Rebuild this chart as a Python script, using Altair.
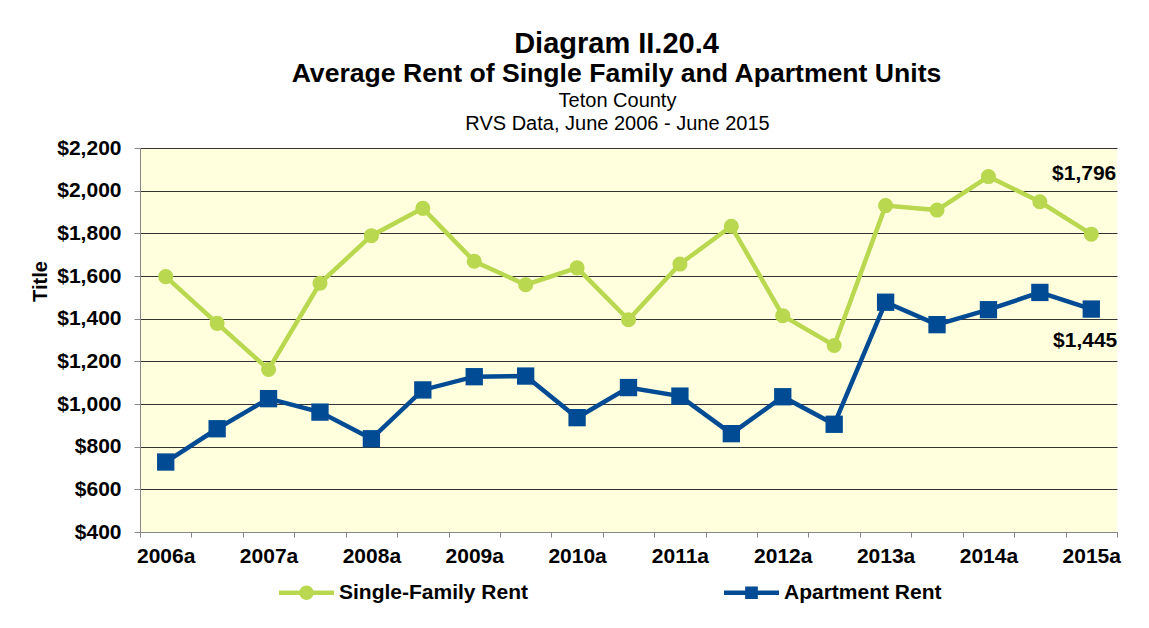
import altair as alt
import pandas as pd

# ---------------- data ----------------
periods = ["2006a", "2006b", "2007a", "2007b", "2008a", "2008b", "2009a", "2009b",
           "2010a", "2010b", "2011a", "2011b", "2012a", "2012b", "2013a", "2013b",
           "2014a", "2014b", "2015a"]
single_family = [1597, 1378, 1162, 1566, 1789, 1917, 1669, 1559, 1638, 1395,
                 1656, 1833, 1414, 1274, 1930, 1909, 2066, 1948, 1796]
apartment = [728, 884, 1025, 962, 837, 1066, 1128, 1131, 936, 1077,
             1037, 861, 1034, 905, 1477, 1372, 1442, 1523, 1445]
series_names = ["Single-Family Rent", "Apartment Rent"]
series_colors = ["#B9D84F", "#004B93"]
y_ticks = [400, 600, 800, 1000, 1200, 1400, 1600, 1800, 2000, 2200]
end_labels = ["$1,796", "$1,445"]

rows = []
for p, v in zip(periods, single_family):
    rows.append({"period": p, "value": v, "series": series_names[0]})
for p, v in zip(periods, apartment):
    rows.append({"period": p, "value": v, "series": series_names[1]})
df = pd.DataFrame(rows)

lab_df = pd.DataFrame({
    "period": [periods[-1], periods[-1]],
    "value": [single_family[-1], apartment[-1]],
    "label": end_labels,
    "series": series_names,
})

FONT = "Liberation Sans"
PLOT_BG = "#FFFFDD"

x_scale = alt.Scale(type="band", domain=periods, paddingInner=0, paddingOuter=0)
y_scale = alt.Scale(domain=[400, 2200], nice=False, zero=False)
color_scale = alt.Scale(domain=series_names, range=series_colors)

y_axis = alt.Axis(
    values=y_ticks, format="$,.0f", title="Title",
    titleX=-100, titleY=133, titleAngle=270, titleAlign="center", titleBaseline="middle",
    titleFont=FONT, titleFontSize=20, titleFontWeight="bold", titleColor="black",
    labelFont=FONT, labelFontSize=21, labelFontWeight="bold", labelColor="black",
    labelPadding=13, tickSize=6, tickColor="#868686", domainColor="#868686",
    grid=True, gridColor="#333333", gridWidth=1,
)
y_enc = alt.Y("value:Q", scale=y_scale, axis=y_axis)

x_bottom = alt.X(
    "period:N", sort=periods, scale=x_scale, bandPosition=0.5,
    axis=alt.Axis(
        orient="bottom", title=None,
        labelExpr="indexof(datum.label, 'b') >= 0 ? '' : datum.label",
        labelAngle=0, labelFont=FONT, labelFontSize=21, labelFontWeight="bold",
        labelColor="black", labelPadding=8, labelOverlap=False,
        tickBand="extent", tickSize=5, tickColor="#868686", domainColor="#868686",
        grid=False,
    ),
)
x_none = alt.X("period:N", sort=periods, scale=x_scale, bandPosition=0.5, axis=None)
x_top = alt.X(
    "period:N", sort=periods, scale=x_scale, bandPosition=0.5,
    axis=alt.Axis(
        orient="top", labels=False, ticks=False, domain=False, grid=False,
        title=["Teton County", "RVS Data, June 2006 - June 2015"],
        titleFont=FONT, titleFontSize=20, titleFontWeight="normal", titleColor="black",
        titleLineHeight=23, titleX=477, titleY=-48, titleAlign="center",
        titleBaseline="middle", titleAngle=0,
    ),
)

# legend symbols: a line segment with the series marker on it (all filled)
circle_path = ("M-1,-0.08H1V0.08H-1Z"
               "M0.26,0A0.26,0.26,0,1,1,-0.26,0A0.26,0.26,0,1,1,0.26,0Z")
square_path = "M-1,-0.08H1V0.08H-1ZM-0.23,-0.23H0.23V0.23H-0.23Z"

legend = alt.Legend(
    orient="none", legendX=139, legendY=417, direction="horizontal", title=None,
    labelFont=FONT, labelFontSize=21, labelFontWeight="bold", labelColor="black",
    labelOffset=5, labelLimit=0, columnPadding=195, symbolSize=3025,
    symbolStrokeWidth=0, symbolOpacity=1,
)


def series_line(i):
    return alt.Chart(df).transform_filter(
        alt.datum.series == series_names[i]
    ).mark_line(strokeWidth=4.5, color=series_colors[i]).encode(
        x=x_bottom if i == 0 else x_none, y=y_enc,
    )


line_sf = series_line(0)
line_ap = series_line(1)

circles = alt.Chart(df).transform_filter(
    alt.datum.series == series_names[0]
).mark_circle(size=227, opacity=1, color=series_colors[0]).encode(
    x=x_none, y=y_enc,
)

squares = alt.Chart(df).transform_filter(
    alt.datum.series == series_names[1]
).mark_square(size=300, opacity=1, color=series_colors[1]).encode(
    x=x_none, y=y_enc,
)

legend_layer = alt.Chart(df).transform_filter("false").mark_point(
    filled=True, opacity=1
).encode(
    color=alt.Color("series:N", scale=color_scale, legend=legend),
    shape=alt.Shape("series:N", scale=alt.Scale(domain=series_names, range=[circle_path, square_path]),
                    legend=legend),
)

text_sf = alt.Chart(lab_df).transform_filter(
    alt.datum.series == series_names[0]
).mark_text(align="right", baseline="middle", dx=25, dy=-60, font=FONT,
            fontSize=21, fontWeight="bold", color="black").encode(
    x=x_top, y=y_enc, text="label:N",
)

text_ap = alt.Chart(lab_df).transform_filter(
    alt.datum.series == series_names[1]
).mark_text(align="right", baseline="middle", dx=26, dy=32, font=FONT,
            fontSize=21, fontWeight="bold", color="black").encode(
    x=x_none, y=y_enc, text="label:N",
)

chart = alt.layer(line_sf, line_ap, circles, squares, legend_layer, text_sf, text_ap).resolve_axis(
    x="independent"
).properties(
    width=977, height=384,
    autosize=alt.AutoSizeParams(type="none"),
    padding={"left": 132, "top": 140, "right": 24, "bottom": 80},
    background="white",
    view=alt.ViewBackground(fill=PLOT_BG, stroke=None),
    title=alt.TitleParams(
        text="Diagram II.20.4",
        subtitle="Average Rent of Single Family and Apartment Units",
        font=FONT, fontSize=29, fontWeight="bold", color="black",
        subtitleFont=FONT, subtitleFontSize=26.6, subtitleFontWeight="bold",
        subtitleColor="black", subtitlePadding=2, anchor="middle", dx=-12, offset=2,
    ),
).configure_view(
    fill=PLOT_BG, stroke=None
)

chart.save("out.html", embed_options={"renderer": "svg", "actions": False})
